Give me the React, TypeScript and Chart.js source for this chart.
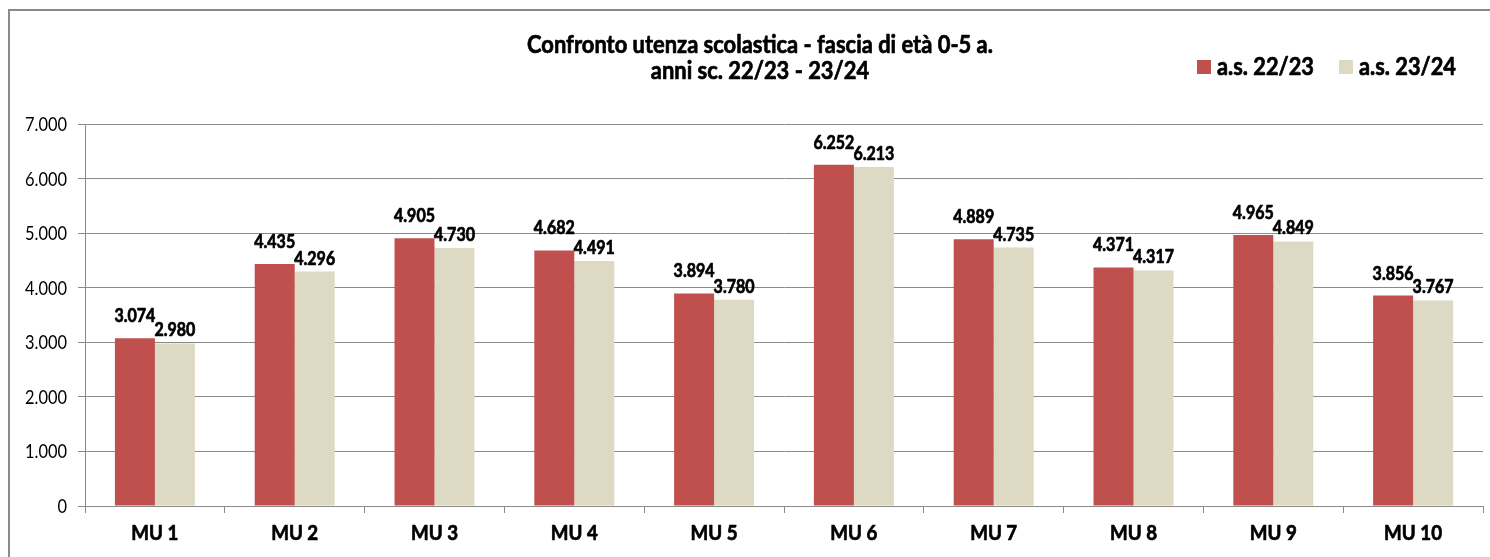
import React, { useEffect, useRef } from "react";
import { Chart, registerables } from "chart.js";

Chart.register(...registerables);

const categories = ["MU 1", "MU 2", "MU 3", "MU 4", "MU 5", "MU 6", "MU 7", "MU 8", "MU 9", "MU 10"];
const seriesLabels = ["a.s. 22/23", "a.s. 23/24"];
const values2223 = [3074, 4435, 4905, 4682, 3894, 6252, 4889, 4371, 4965, 3856];
const values2324 = [2980, 4296, 4730, 4491, 3780, 6213, 4735, 4317, 4849, 3767];
const titleLines = ["Confronto utenza scolastica - fascia di età 0-5 a.", "anni sc. 22/23 - 23/24"];
const yMin = 0;
const yMax = 7000;
const yStep = 1000;

const COLORS = ["#C0504D", "#DDD9C3"];
const GRID = "#8a8a8a";
const FAMILY = "Lato, 'Open Sans', sans-serif";
const SQ = 0.88;

const fmt = (n: number) => String(n).replace(/\B(?=(\d{3})+(?!\d))/g, ".");

function fitSize(weight: string, text: string, width: number): number {
  const c = document.createElement("canvas").getContext("2d")!;
  c.font = `${weight} 100px ${FAMILY}`;
  const w = c.measureText(text).width;
  return (100 * width) / (w * SQ);
}

function drawText(
  ctx: CanvasRenderingContext2D,
  text: string,
  x: number,
  y: number,
  align: CanvasTextAlign,
  heavy: boolean,
  baseline: CanvasTextBaseline = "alphabetic"
) {
  ctx.save();
  ctx.translate(x, y);
  ctx.scale(SQ, 1);
  ctx.textAlign = align;
  ctx.textBaseline = baseline;
  ctx.fillText(text, 0, 0);
  if (heavy) {
    ctx.strokeStyle = "#000";
    ctx.lineWidth = 0.7;
    ctx.lineJoin = "round";
    ctx.strokeText(text, 0, 0);
  }
  ctx.restore();
}

export default function App() {
  const ref = useRef<HTMLCanvasElement | null>(null);

  useEffect(() => {
    document.documentElement.style.overflow = "hidden";
    const canvas = ref.current!;
    const W = 1480;
    const H = 546;
    const area = { left: 75, top: 113, right: 1473, bottom: 495 };

    const yTickSize = fitSize("400", "7.000", 42);
    const xTickSize = fitSize("700", "MU 10", 58);
    const labelSize = fitSize("700", "4.435", 41);
    const title1Size = fitSize("700", titleLines[0], 474);
    const title2Size = fitSize("700", titleLines[1], 215);
    const titleSize = (title1Size + title2Size) / 2;
    const legendSize = fitSize("700", seriesLabels[0], 97);

    const overlay = {
      id: "overlay",
      afterDatasetsDraw(chart: any) {
        const ctx = chart.ctx as CanvasRenderingContext2D;
        ctx.save();
        ctx.fillStyle = "#000";
        // data labels
        ctx.font = `700 ${labelSize}px ${FAMILY}`;
        const gaps = [16, 7];
        chart.data.datasets.forEach((ds: any, di: number) => {
          const meta = chart.getDatasetMeta(di);
          meta.data.forEach((bar: any, i: number) => {
            drawText(ctx, fmt(ds.data[i]), bar.x, bar.y - gaps[di], "center", true);
          });
        });
        // y tick labels
        const ys = chart.scales.y;
        ctx.font = `400 ${yTickSize}px ${FAMILY}`;
        for (let v = yMin; v <= yMax; v += yStep) {
          drawText(ctx, fmt(v), 57, ys.getPixelForValue(v) + 1, "right", false, "middle");
        }
        // x tick labels
        const xs = chart.scales.x;
        ctx.font = `700 ${xTickSize}px ${FAMILY}`;
        categories.forEach((c, i) => {
          drawText(ctx, c, xs.getPixelForValue(i), 529, "center", true);
        });
        // title
        ctx.font = `700 ${titleSize}px ${FAMILY}`;
        drawText(ctx, titleLines[0], 750, 42, "center", true);
        drawText(ctx, titleLines[1], 750, 68, "center", true);
        // legend
        ctx.font = `700 ${legendSize}px ${FAMILY}`;
        const lx = [1187, 1329];
        seriesLabels.forEach((s, i) => {
          ctx.fillStyle = COLORS[i];
          ctx.fillRect(lx[i], 49, 14, 14);
          ctx.fillStyle = "#000";
          drawText(ctx, s, lx[i] + 20, 64, "left", true);
        });
        ctx.restore();
      },
    };

    const chart = new Chart(canvas, {
      type: "bar",
      data: {
        labels: categories,
        datasets: [
          {
            label: seriesLabels[0],
            data: values2223,
            backgroundColor: COLORS[0],
            barPercentage: 1,
            categoryPercentage: 0.572,
          },
          {
            label: seriesLabels[1],
            data: values2324,
            backgroundColor: COLORS[1],
            barPercentage: 1,
            categoryPercentage: 0.572,
          },
        ],
      },
      options: {
        responsive: false,
        animation: false,
        layout: { padding: { left: 0, top: area.top, right: W - area.right, bottom: 0 } },
        plugins: {
          legend: { display: false },
          title: { display: false },
          tooltip: { enabled: false },
        },
        scales: {
          x: {
            afterFit: (s: any) => {
              s.height = H - area.bottom;
            },
            grid: {
              drawOnChartArea: false,
              drawTicks: true,
              tickLength: 7,
              color: GRID,
              lineWidth: 1,
            },
            border: { display: true, color: GRID, width: 1 },
            ticks: { display: false },
          },
          y: {
            min: yMin,
            max: yMax,
            afterFit: (s: any) => {
              s.width = area.left;
            },
            grid: {
              color: GRID,
              lineWidth: 1,
              tickLength: 7,
            },
            border: { display: true, color: GRID, width: 1 },
            ticks: {
              stepSize: yStep,
              display: false,
            },
          },
        },
      },
      plugins: [overlay],
    });
    return () => chart.destroy();
  }, []);

  return (
    <div
      style={{
        position: "absolute",
        left: 8,
        top: 9,
        width: 1482,
        height: 548,
        borderTop: "2px solid #8a8a8a",
        borderLeft: "2px solid #8a8a8a",
        boxSizing: "border-box",
        background: "#fff",
      }}
    >
      <canvas ref={ref} width={1480} height={546} style={{ display: "block" }} />
    </div>
  );
}
